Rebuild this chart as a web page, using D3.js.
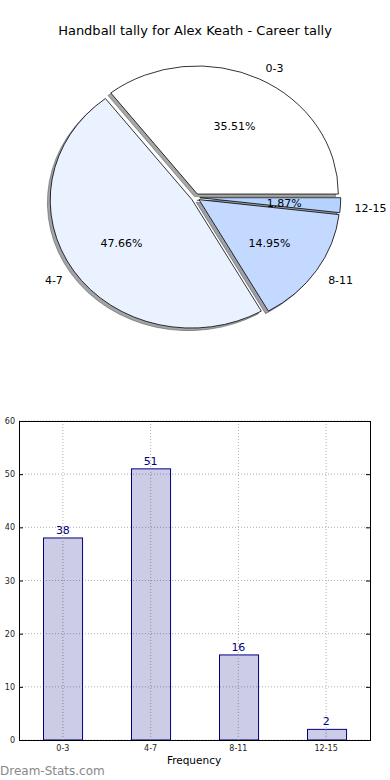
<!DOCTYPE html>
<html><head><meta charset="utf-8">
<script src="https://cdn.jsdelivr.net/npm/d3@7"></script>
<style>
html,body{margin:0;padding:0;background:#fff;}
text{font-family:"DejaVu Sans",sans-serif;}
</style></head>
<body>
<svg id="c" width="390" height="780"></svg>
<script>
const title = "Handball tally for Alex Keath - Career tally";
const categories = ["0-3","4-7","8-11","12-15"];
const counts = [38,51,16,2];
const pctLabels = ["35.51%","47.66%","14.95%","1.87%"];
const pieColors = ["#ffffff","#ebf2ff","#c4d9ff","#b5d3ff"];
const yTicks = [0,10,20,30,40,50,60];
const xLabel = "Frequency";
const watermark = "Dream-Stats.com";

const svg = d3.select("#c");
svg.append("text").attr("x",195).attr("y",35).attr("text-anchor","middle")
  .attr("font-size",13).attr("fill","#000").text(title);

// ---- Pie ----
const cx=195.5, cy=197.5, rx=141, ry=128, explode=0.03;
const pie = d3.pie().sort(null).startAngle(Math.PI/2).endAngle(Math.PI/2-2*Math.PI);
const arcs = pie(counts);
const arc = d3.arc().innerRadius(0).outerRadius(1);
const pg = svg.append("g").attr("transform",`translate(${cx},${cy})`);
function dir(a){const m=(a.startAngle+a.endAngle)/2;return [Math.sin(m),-Math.cos(m)];}
// shadows
arcs.forEach((a,i)=>{
  const [dx,dy]=dir(a);
  const c=d3.rgb(pieColors[i]);
  const sc=d3.rgb(c.r*0.3,c.g*0.3,c.b*0.3);
  pg.append("path")
    .attr("transform",`translate(${dx*explode*rx-0.02*rx},${dy*explode*ry+0.02*ry}) scale(${rx},${ry})`)
    .attr("d",arc(a)).attr("fill",sc).attr("fill-opacity",0.5)
    .attr("stroke",sc).attr("stroke-opacity",0.5).attr("stroke-width",1)
    .attr("vector-effect","non-scaling-stroke");
});
arcs.forEach((a,i)=>{
  const [dx,dy]=dir(a);
  pg.append("path")
    .attr("transform",`translate(${dx*explode*rx},${dy*explode*ry}) scale(${rx},${ry})`)
    .attr("d",arc(a)).attr("fill",pieColors[i])
    .attr("stroke","#000").attr("stroke-width",0.8)
    .attr("vector-effect","non-scaling-stroke");
});
arcs.forEach((a,i)=>{
  const [dx,dy]=dir(a);
  const ex=dx*explode*rx, ey=dy*explode*ry;
  pg.append("text").attr("x",ex+dx*1.1*rx).attr("y",ey+dy*1.1*ry+ (dy>0.0?3:1))
    .attr("text-anchor",dx>0?"start":"end").attr("dominant-baseline","middle")
    .attr("font-size",11).attr("fill","#000").text(categories[i]);
  pg.append("text").attr("x",ex+dx*0.6*rx).attr("y",ey+dy*0.6*ry+1.5)
    .attr("text-anchor","middle").attr("dominant-baseline","middle")
    .attr("font-size",11).attr("fill","#000").text(pctLabels[i]);
});

// ---- Bar chart ----
const L=19,R=370,T=421,B=740;
const x = d3.scaleBand().domain(categories).range([L,R]).paddingInner(0.555).paddingOuter(0.2775);
const y = d3.scaleLinear().domain([0,60]).range([B,T]);
const bg = svg.append("g");
// grid
bg.selectAll(".hg").data(yTicks).join("line")
  .attr("x1",L).attr("x2",R).attr("y1",d=>y(d)).attr("y2",d=>y(d))
  .attr("stroke","#b0b0b0").attr("stroke-width",1).attr("stroke-dasharray","1,2");
bg.selectAll(".vg").data(categories).join("line")
  .attr("x1",d=>x(d)+x.bandwidth()/2).attr("x2",d=>x(d)+x.bandwidth()/2)
  .attr("y1",T).attr("y2",B)
  .attr("stroke","#b0b0b0").attr("stroke-width",1).attr("stroke-dasharray","1,2");
// bars
bg.selectAll(".bar").data(counts).join("rect")
  .attr("x",(d,i)=>Math.round(x(categories[i]))+0.5).attr("width",x.bandwidth())
  .attr("y",d=>y(d)).attr("height",d=>B-y(d))
  .attr("fill","#000080").attr("fill-opacity",0.2)
  .attr("stroke","#000080").attr("stroke-width",1);
// vertical grid visible over bars (as in reference)
bg.selectAll(".vg2").data(categories).join("line")
  .attr("x1",d=>x(d)+x.bandwidth()/2).attr("x2",d=>x(d)+x.bandwidth()/2)
  .attr("y1",d=>y(counts[categories.indexOf(d)])).attr("y2",B)
  .attr("stroke","#a0a0b0").attr("stroke-width",1).attr("stroke-dasharray","1,2");
bg.selectAll(".vl").data(counts).join("text")
  .attr("x",(d,i)=>x(categories[i])+x.bandwidth()/2).attr("y",d=>y(d)-4)
  .attr("text-anchor","middle").attr("font-size",11).attr("fill","#000080")
  .text(d=>d);
// frame
bg.append("rect").attr("x",L+0.5).attr("y",T+0.5).attr("width",R-L).attr("height",B-T)
  .attr("fill","none").attr("stroke","#000").attr("stroke-width",1);
// axes
const yAxis = d3.axisLeft(y).tickValues(yTicks).tickSize(0).tickPadding(4);
const ga = bg.append("g").attr("transform",`translate(${L},0)`).call(yAxis);
ga.select(".domain").remove();
ga.selectAll("text").attr("font-size",8).attr("fill","#222").attr("font-family","DejaVu Sans, sans-serif");
const xAxis = d3.axisBottom(x).tickSize(0).tickPadding(5);
const gx = bg.append("g").attr("transform",`translate(0,${B})`).call(xAxis);
gx.select(".domain").remove();
gx.selectAll("text").attr("font-size",8).attr("fill","#222").attr("font-family","DejaVu Sans, sans-serif");
// inward ticks
bg.selectAll(".lt").data(yTicks).join("line").attr("x1",L).attr("x2",L+4)
  .attr("y1",d=>y(d)+0.5).attr("y2",d=>y(d)+0.5).attr("stroke","#000");
bg.selectAll(".rt").data(yTicks).join("line").attr("x1",R-4).attr("x2",R)
  .attr("y1",d=>y(d)+0.5).attr("y2",d=>y(d)+0.5).attr("stroke","#000");
svg.append("text").attr("x",194).attr("y",764).attr("text-anchor","middle")
  .attr("font-size",10.5).attr("fill","#000").text(xLabel);
svg.append("text").attr("x",0).attr("y",775)
  .attr("font-size",12).attr("fill","#888").text(watermark);
</script>
</body></html>
